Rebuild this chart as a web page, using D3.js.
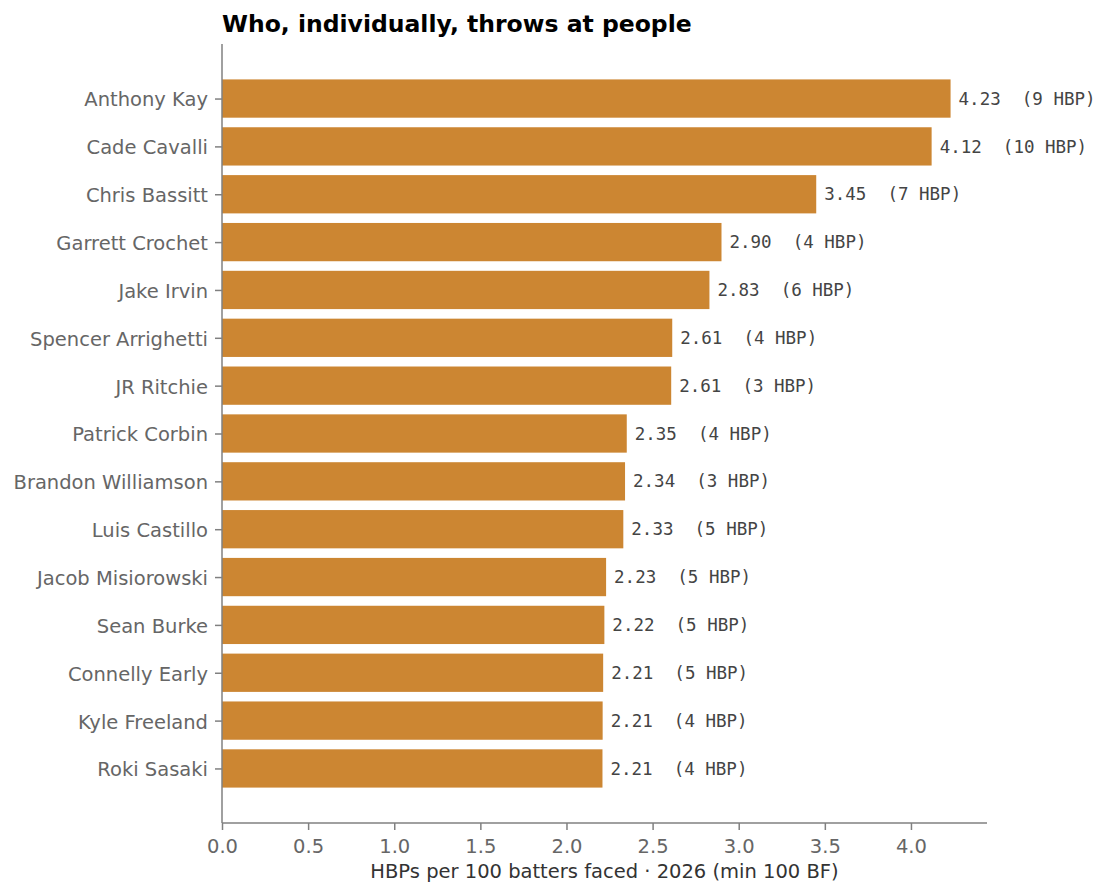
<!DOCTYPE html>
<html>
<head>
<meta charset="utf-8">
<script src="https://cdn.jsdelivr.net/npm/d3@7"></script>
<style>
  body { margin: 0; background: #fff; }
  svg { display: block; }
</style>
</head>
<body>
<svg width="1109" height="896"></svg>
<script>
// pitchers, sorted by HBP rate
const pitchers = ["Anthony Kay", "Cade Cavalli", "Chris Bassitt", "Garrett Crochet", "Jake Irvin",
    "Spencer Arrighetti", "JR Ritchie", "Patrick Corbin", "Brandon Williamson", "Luis Castillo",
    "Jacob Misiorowski", "Sean Burke", "Connelly Early", "Kyle Freeland", "Roki Sasaki"];
const hbpRate = [4.23, 4.12, 3.45, 2.90, 2.83, 2.614, 2.608, 2.35, 2.34, 2.33, 2.23, 2.22, 2.213, 2.21, 2.209];
const hbpCount = [9, 10, 7, 4, 6, 4, 3, 4, 3, 5, 5, 5, 5, 4, 4];
const xTicks = [0, 0.5, 1, 1.5, 2, 2.5, 3, 3.5, 4];

const svg = d3.select("svg");
const plotLeft = 222, plotRight = 987, plotTop = 44, plotBottom = 823;
const barColor = "#cc8632";
const spineColor = "#808080";

var x = d3.scaleLinear()
    .domain([0, d3.max(hbpRate) * 1.05])
    .range([plotLeft, plotRight]);

// matplotlib style: bar height 0.8, 5% margins
var n = pitchers.length;
var y = d3.scaleLinear()
    .domain([-0.4 - 0.74, n - 1 + 0.4 + 0.74])
    .range([plotTop, plotBottom]);

const data = pitchers.map((p, i) => ({ name: p, rate: hbpRate[i], hbp: hbpCount[i], idx: i }));

svg.append("g")
    .selectAll("rect")
    .data(data)
    .enter().append("rect")
    .attr("x", x(0))
    .attr("y", d => y(d.idx - 0.4))
    .attr("width", d => x(d.rate) - x(0))
    .attr("height", d => y(d.idx + 0.4) - y(d.idx - 0.4))
    .attr("fill", barColor);

svg.append("g")
    .selectAll("text")
    .data(data)
    .enter().append("text")
    .attr("x", d => x(d.rate) + 8)
    .attr("y", d => y(d.idx))
    .attr("dy", "0.35em")
    .attr("font-family", "DejaVu Sans Mono")
    .attr("font-size", 17.5)
    .attr("fill", "#444")
    .style("white-space", "pre")
    .text(d => `${d.rate.toFixed(2)}  (${d.hbp} HBP)`);

// y axis
var yAxis = svg.append("g")
    .attr("transform", `translate(${plotLeft},0)`)
    .call(d3.axisLeft(y).tickValues(d3.range(n)).tickFormat(i => pitchers[i]).tickSize(7).tickPadding(7));
yAxis.select(".domain").remove();
yAxis.selectAll(".tick text").attr("dy", "0.38em");
yAxis.append("line")
    .attr("y1", plotTop).attr("y2", plotBottom)
    .attr("stroke", spineColor).attr("stroke-width", 1.5);

// x axis
var xAxis = svg.append("g")
    .attr("transform", `translate(0,${plotBottom})`)
    .call(d3.axisBottom(x).tickValues(xTicks).tickFormat(d3.format(".1f")).tickSize(7).tickPadding(9));
xAxis.select(".domain").remove();
xAxis.append("line")
    .attr("x1", plotLeft).attr("x2", plotRight)
    .attr("stroke", spineColor).attr("stroke-width", 1.5);

svg.selectAll(".tick line").attr("stroke", spineColor).attr("stroke-width", 1.5);
svg.selectAll(".tick text")
    .attr("font-family", "DejaVu Sans")
    .attr("font-size", 19.5)
    .attr("fill", "#666");

svg.append("text")
    .attr("x", plotLeft)
    .attr("y", 32)
    .attr("font-family", "DejaVu Sans")
    .attr("font-weight", "bold")
    .attr("font-size", 23.5)
    .text("Who, individually, throws at people");

svg.append("text")
    .attr("x", (plotLeft + plotRight) / 2)
    .attr("y", 878)
    .attr("text-anchor", "middle")
    .attr("font-family", "DejaVu Sans")
    .attr("font-size", 19.5)
    .attr("fill", "#333")
    .text("HBPs per 100 batters faced · 2026 (min 100 BF)");
</script>
</body>
</html>
